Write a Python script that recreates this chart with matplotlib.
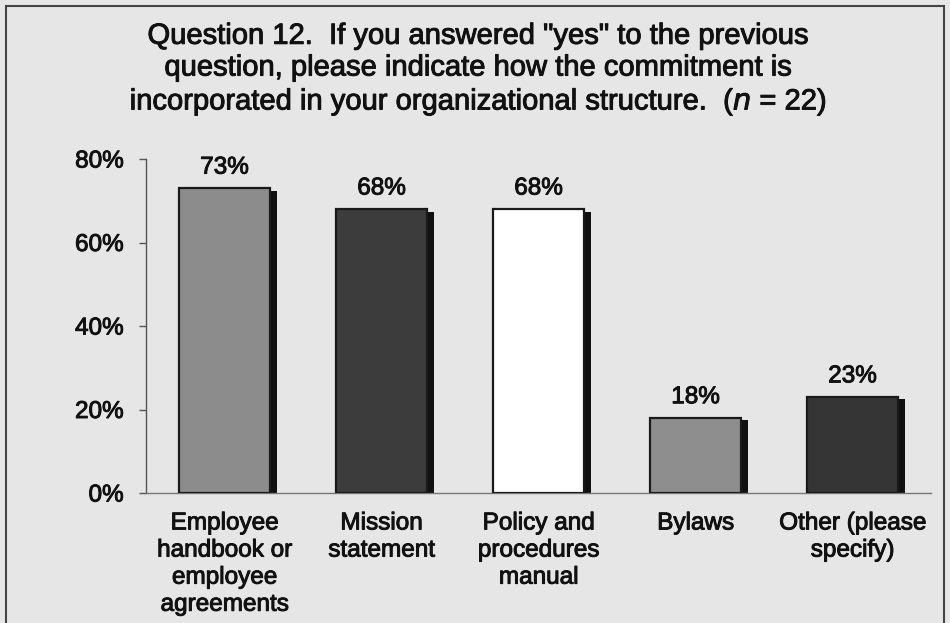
import numpy as np
import matplotlib
matplotlib.use("Agg")
import matplotlib.pyplot as plt
import matplotlib.patheffects as pe
from matplotlib.patches import Rectangle

plt.rcParams['font.family'] = ['Liberation Sans', 'DejaVu Sans']

categories = ["Employee\nhandbook or\nemployee\nagreements",
              "Mission\nstatement",
              "Policy and\nprocedures\nmanual",
              "Bylaws",
              "Other (please\nspecify)"]
values = [73, 68, 68, 18, 23]
bar_colors = ["#8c8c8c", "#3c3c3c", "#ffffff", "#8e8e8e", "#353535"]
yticks = [0, 20, 40, 60, 80]

bg = "#e6e6e6"
ink = "#111111"
heavy = [pe.withStroke(linewidth=0.7, foreground=ink)]

fig = plt.figure(figsize=(9.5, 6.23), dpi=100, facecolor=bg)
ax = fig.add_axes([146/950, 130/623, 785/950, 334/623])
ax.set_facecolor(bg)

x = np.arange(len(values))
w = 0.58

# drop shadows behind each bar
ax.bar(x + 0.045, [v - 0.6 for v in values], width=w, color="#111111",
       zorder=2, linewidth=0)
ax.bar(x, values, width=w, color=bar_colors, edgecolor="#1a1a1a",
       linewidth=1.6, zorder=3)

for xi, v in zip(x, values):
    ax.text(xi, v + 2.3, f"{v}%", ha="center", va="bottom", fontsize=17.5,
            color=ink, clip_on=False, path_effects=heavy)

ax.set_xlim(-0.5, 4.5)
ax.set_ylim(0, 80)
ax.set_yticks(yticks)
ax.set_yticklabels([f"{t}%" for t in yticks], fontsize=17.5, color=ink,
                   path_effects=heavy)
ax.tick_params(axis="y", direction="out", length=5, width=1, color="#555555",
               pad=11)
ax.set_xticks(x)
ax.set_xticklabels(categories, fontsize=17.5, color=ink, linespacing=1.3,
                   va="top", path_effects=heavy)
ax.tick_params(axis="x", length=0, pad=14)

for s in ["top", "right"]:
    ax.spines[s].set_visible(False)
ax.spines["left"].set_color("#555555")
ax.spines["bottom"].set_color("#777777")
ax.spines["left"].set_linewidth(1.0)
ax.spines["bottom"].set_linewidth(1.0)

fig.text(0.503, 0.965,
         "Question 12.  If you answered \"yes\" to the previous\n"
         "question, please indicate how the commitment is\n"
         "incorporated in your organizational structure.  ($n$ = 22)",
         ha="center", va="top", fontsize=21, linespacing=1.17, color=ink,
         path_effects=heavy)

# outer frame of the chart
fig.patches.append(Rectangle((6/950, -0.01), 938/950, 1 - 6/623 + 0.01,
                             transform=fig.transFigure, fill=False,
                             edgecolor="#444444", linewidth=1.5))

fig.savefig("out.png", dpi=100, facecolor=bg)
